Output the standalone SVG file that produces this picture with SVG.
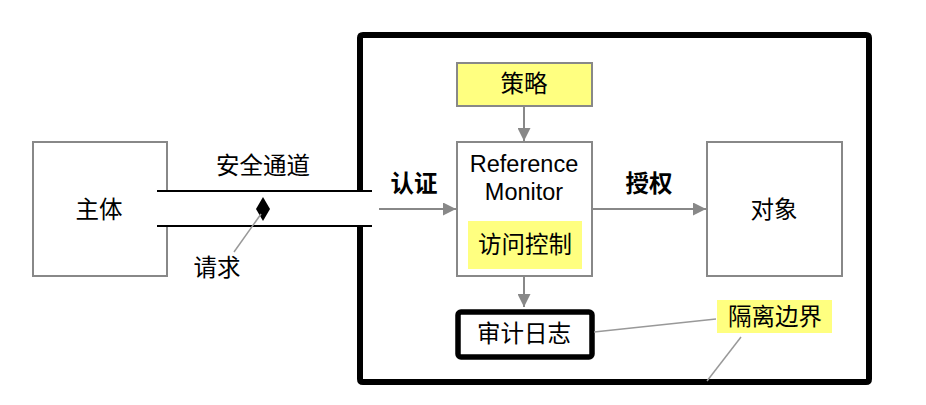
<svg xmlns="http://www.w3.org/2000/svg" width="926" height="405" viewBox="0 0 926 405">
<style>
text{font-family:"Liberation Sans","Noto Sans CJK SC",sans-serif;font-size:23.5px;fill:#000;text-anchor:middle;dominant-baseline:central}
.box{fill:#fff;stroke:#888;stroke-width:2}
.hl{fill:#ffff80;stroke:none}
.conn{stroke:#888;stroke-width:2;fill:none}
.thin{stroke:#999;stroke-width:1.5;fill:none}
.b{font-weight:bold}
</style>
<defs>
<marker id="arr" viewBox="0 0 10 10" refX="10" refY="5" markerWidth="6.5" markerHeight="6.5" markerUnits="strokeWidth" orient="auto">
<path d="M0,0 L10,5 L0,10 z" fill="#888"/>
</marker>
</defs>
<rect width="926" height="405" fill="#fff"/>

<g id="boundary">
<path d="M360,192 V38 Q360,35 363,35 H866 Q869,35 869,38 V379 Q869,382 866,382 H363 Q360,382 360,379 V226" fill="none" stroke="#000" stroke-width="6"/>
</g>

<g id="subject">
<path d="M167,191 V142 H33 V276 H167 V226" class="box"/>
<text x="99" y="210">主体</text>
</g>

<g id="channel">
<line x1="157" y1="191" x2="372" y2="191" stroke="#000" stroke-width="1.8"/>
<line x1="157" y1="226" x2="372" y2="226" stroke="#000" stroke-width="2.2"/>
<text x="263" y="166">安全通道</text>
<path d="M263,197 L270,209 L263,221 L256,209 Z" fill="#000"/>
</g>

<g id="policy">
<rect x="457" y="63" width="135" height="43" fill="#ffff80" stroke="#888" stroke-width="2"/>
<text x="524" y="84">策略</text>
</g>

<g id="monitor">
<rect x="457" y="142" width="135" height="134" class="box"/>
<text x="524" y="164">Reference</text>
<text x="524" y="192">Monitor</text>
<rect x="468" y="221" width="114" height="48" class="hl"/>
<text x="525" y="245">访问控制</text>
</g>

<g id="object">
<rect x="707" y="142" width="135" height="134" class="box"/>
<text x="774" y="210">对象</text>
</g>

<g id="audit">
<rect x="458" y="312" width="134" height="45" rx="3" fill="#fff" stroke="#000" stroke-width="5.5"/>
<text x="524" y="334">审计日志</text>
</g>

<g id="isolation-label">
<rect x="717" y="300" width="115" height="33" class="hl"/>
<text x="775" y="317">隔离边界</text>
</g>

<g id="request-label">
<text x="217" y="268">请求</text>
</g>

<g id="connectors">
<line x1="379" y1="209" x2="456" y2="209" class="conn" marker-end="url(#arr)"/>
<text class="b" x="414" y="184">认证</text>
<line x1="524" y1="106" x2="524" y2="141" class="conn" marker-end="url(#arr)"/>
<line x1="592" y1="209" x2="706" y2="209" class="conn" marker-end="url(#arr)"/>
<text class="b" x="649" y="184">授权</text>
<line x1="524" y1="276" x2="524" y2="307" class="conn" marker-end="url(#arr)"/>
<line x1="261" y1="214" x2="234" y2="252" class="thin"/>
<line x1="594" y1="332" x2="716" y2="319" class="thin"/>
<line x1="741" y1="337" x2="707" y2="381" class="thin"/>
</g>
</svg>
